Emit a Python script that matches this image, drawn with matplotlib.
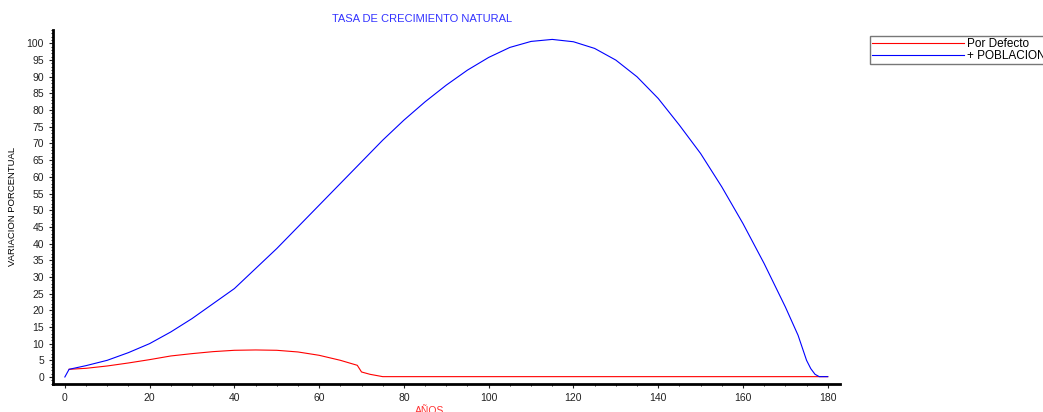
import numpy as np
import matplotlib.pyplot as plt
from matplotlib.ticker import MultipleLocator

plt.rcParams['font.family'] = ['Liberation Sans', 'DejaVu Sans']

# ── Datos ────────────────────────────────────────────────────────────────────
anios_pob = [0, 1, 5, 10, 15, 20, 25, 30, 35, 40, 45, 50, 55, 60, 65, 70,
             75, 80, 85, 90, 95, 100, 105, 110, 115, 120, 125, 130, 135, 140,
             145, 150, 155, 160, 165, 170, 173, 175, 176, 177, 178, 180]
poblacion = [0, 2.3, 3.4, 5.0, 7.3, 10.0, 13.5, 17.5, 22.0, 26.5, 32.5,
             38.5, 45.0, 51.5, 58.0, 64.5, 71.0, 77.0, 82.5, 87.5, 92.0,
             95.8, 98.8, 100.6, 101.2, 100.5, 98.5, 95.0, 90.0, 83.5,
             75.5, 67.0, 57.0, 46.0, 34.0, 21.0, 12.5, 5.0, 2.5, 0.8, 0.1, 0.1]

anios_def = [1, 5, 10, 15, 20, 25, 30, 35, 40, 45, 50, 55, 60, 65, 69, 70,
             72, 75, 80, 100, 120, 140, 160, 180]
por_defecto = [2.3, 2.6, 3.3, 4.2, 5.2, 6.3, 7.0, 7.6, 8.0, 8.1, 8.0, 7.5,
               6.5, 5.0, 3.5, 1.5, 0.8, 0.1, 0.1, 0.1, 0.1, 0.1, 0.1, 0.1]

fig = plt.figure(figsize=(10.43, 4.12), dpi=100)
ax = fig.add_axes([0.0508, 0.068, 0.755, 0.859])

ax.plot(anios_def, por_defecto, color='#ff0000', linewidth=0.8, label='Por Defecto')
ax.plot(anios_pob, poblacion, color='#0000ff', linewidth=0.8, label='+ POBLACION')

ax.set_xlim(-2.8, 183)
ax.set_ylim(-2.1, 104)
ax.xaxis.set_major_locator(MultipleLocator(20))
ax.xaxis.set_minor_locator(MultipleLocator(5))
ax.yaxis.set_major_locator(MultipleLocator(5))
ax.yaxis.set_minor_locator(MultipleLocator(1))
ax.tick_params(labelsize=7.5, length=3, width=0.8, colors='#222222')
ax.tick_params(which='minor', length=1.5, width=0.6)

for s in ['top', 'right']:
    ax.spines[s].set_visible(False)
ax.spines['left'].set_linewidth(2)
ax.spines['bottom'].set_linewidth(2)

fig.text(0.405, 0.955, 'TASA DE CRECIMIENTO NATURAL', color='#3333ff',
         fontsize=8, ha='center', va='center')
fig.text(0.412, 0.003, 'AÑOS', color='#ff3333', fontsize=7.5, ha='center', va='center')
fig.text(0.012, 0.50, 'VARIACION PORCENTUAL', rotation=90, fontsize=6.8,
         ha='center', va='center')

leg = fig.legend(loc='upper left', bbox_to_anchor=(0.834, 0.912), fontsize=8.5,
                 handlelength=7.8, frameon=True, fancybox=False, borderpad=0.15,
                 labelspacing=0.0, handletextpad=0.3, borderaxespad=0)
leg.get_frame().set_edgecolor('#555555')
leg.get_frame().set_linewidth(1.0)

plt.savefig('out.png', dpi=100)
